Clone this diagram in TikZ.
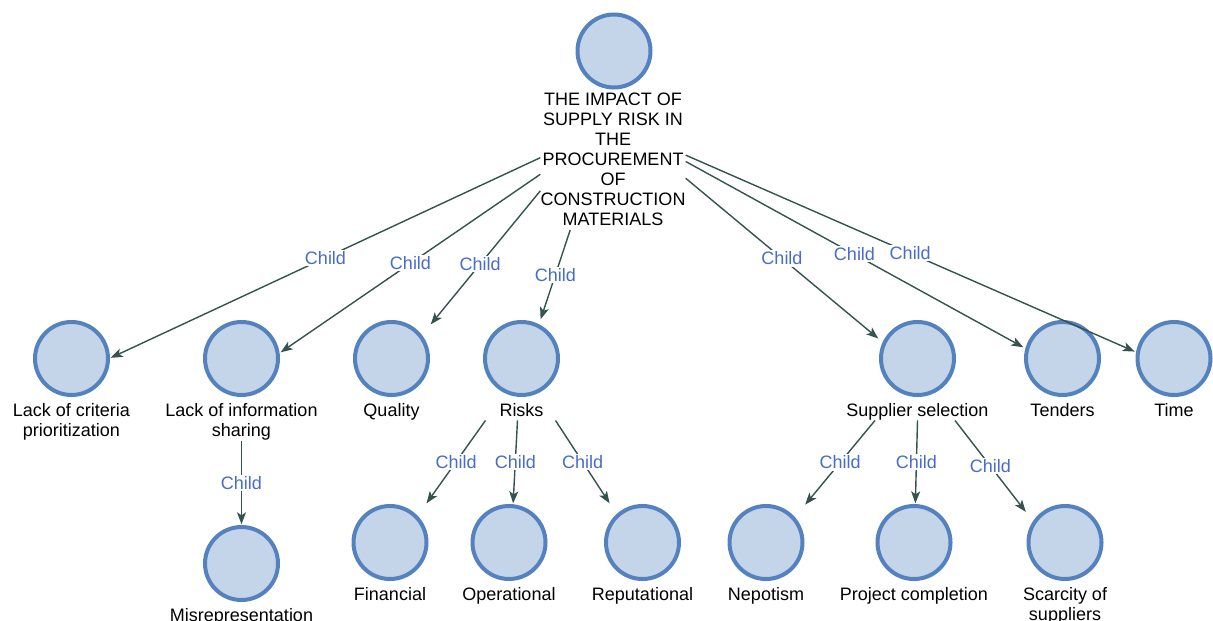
\documentclass[tikz,border=0pt]{standalone}
\usepackage{fontspec}
\setmainfont{Liberation Sans}
\usetikzlibrary{arrows.meta,calc}
\definecolor{ballfill}{RGB}{197,213,233}
\definecolor{ballring}{RGB}{84,130,190}
\definecolor{wire}{RGB}{52,82,78}
\definecolor{tagblue}{RGB}{72,108,204}
\tikzset{
  ball/.style={rectangle, minimum size=78pt, inner sep=0pt, fill=white,
    path picture={\draw[ballring, fill=ballfill, line width=4pt]
      (path picture bounding box.center) circle[radius=36.5pt];}},
  caption/.style={anchor=north, align=center, inner sep=0pt, text depth=4pt,
    font=\fontsize{18}{20.5}\selectfont, text=black},
  link/.style={draw=wire, line width=1.4pt,
    -{Stealth[length=12pt,width=9pt,inset=3pt]}},
  tag/.style={fill=white, inner sep=1.5pt, text=tagblue,
    font=\fontsize{18}{20}\selectfont}
}
\begin{document}
\begin{tikzpicture}[x=1pt,y=1pt]
\useasboundingbox (0,0) rectangle (1213,-621);
\clip (0,0) rectangle (1213,-621);

% root
\node[ball] (top) at (614,-51) {};
\node[caption, font=\fontsize{18}{20}\selectfont] (topcap) at (613,-93)
  {THE IMPACT OF\\SUPPLY RISK IN\\THE\\PROCUREMENT\\OF\\CONSTRUCTION\\MATERIALS};

% first level
\node[ball] (lc) at (71.5,-358.5) {};
\node[caption] (lccap) at (71.5,-403) {Lack of criteria\\prioritization};
\node[ball] (li) at (241.5,-358.5) {};
\node[caption] (licap) at (241.5,-403) {Lack of information\\sharing};
\node[ball] (q) at (391.5,-358.5) {};
\node[caption] (qcap) at (391.5,-403) {Quality};
\node[ball] (r) at (521.5,-358.5) {};
\node[caption] (rcap) at (521.5,-403) {Risks};
\node[ball] (ss) at (917.5,-358.5) {};
\node[caption] (sscap) at (917.5,-403) {Supplier selection};
\node[ball] (t) at (1062.5,-358.5) {};
\node[caption] (tcap) at (1062.5,-403) {Tenders};
\node[ball] (ti) at (1174,-358.5) {};
\node[caption] (ticap) at (1174,-403) {Time};

% second level
\node[ball] (mis) at (241.5,-563.5) {};
\node[caption] (miscap) at (241.5,-608) {Misrepresentation};
\node[ball] (fin) at (390,-542.5) {};
\node[caption] (fincap) at (390,-587) {Financial};
\node[ball] (op) at (509,-542.5) {};
\node[caption] (opcap) at (509,-587) {Operational};
\node[ball] (rep) at (642.5,-542.5) {};
\node[caption] (repcap) at (642.5,-587) {Reputational};
\node[ball] (nep) at (766,-542.5) {};
\node[caption] (nepcap) at (766,-587) {Nepotism};
\node[ball] (pc) at (914,-542.5) {};
\node[caption] (pccap) at (914,-587) {Project completion};
\node[ball] (sc) at (1065,-542.5) {};
\node[caption] (sccap) at (1065,-587) {Scarcity of\\suppliers};

% connectors from the root
\draw[link] (topcap.177) -- node[tag] (e1) {Child} (lc.1);
\draw[link] (topcap.190) -- node[tag] (e2) {Child} (li.9);
\draw[link] (topcap.202) -- node[tag, pos=0.55] (e3) {Child} (q.41);
\draw[link] (topcap.238) -- node[tag] (e4) {Child} (r.64);
\draw[link] (topcap.-13) -- node[tag] (e5) {Child} (ss.153);
\draw[link] (topcap.0) -- node[tag] (e6) {Child} (t.164);
\draw[link] (topcap.5) -- node[tag] (e7) {Child} (ti.170.5);

% connectors below the first level
\draw[link] (licap.south) -- node[tag] (e8) {Child} (mis.north);
\draw[link] ($(rcap.south)+(-36,0)$) -- node[tag] (e9) {Child} (fin.47.6);
\draw[link] ($(rcap.south)+(-4,0)$) -- node[tag] (e10) {Child} (op.84.4);
\draw[link] ($(rcap.south)+(34,0)$) -- node[tag] (e11) {Child} (rep.130);
\draw[link] ($(sscap.south)+(-42.5,0)$) -- node[tag] (e12) {Child} (nep.44.6);
\draw[link] ($(sscap.south)+(0,0)$) -- node[tag] (e13) {Child} (pc.88.6);
\draw[link] ($(sscap.south)+(37.5,0)$) -- node[tag] (e14) {Child} (sc.142.7);
\end{tikzpicture}
\end{document}
